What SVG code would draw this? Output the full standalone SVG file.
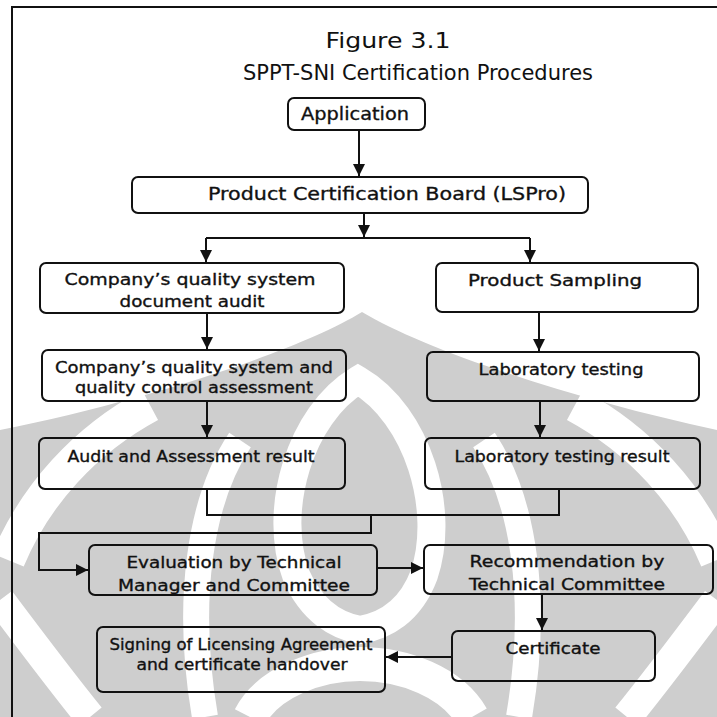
<svg xmlns="http://www.w3.org/2000/svg" width="717" height="717" viewBox="0 0 717 717">
<style>
.box{fill:none;stroke:#111;stroke-width:2}
.t{font-family:"DejaVu Sans","Liberation Sans",sans-serif;font-size:16px;fill:#111;stroke:#111;stroke-width:0.35;text-anchor:middle}
.tb{font-family:"DejaVu Sans","Liberation Sans",sans-serif;font-size:18px;fill:#111;stroke:#111;stroke-width:0.35;text-anchor:middle}
.title{font-family:"DejaVu Sans","Liberation Sans",sans-serif;font-size:22px;fill:#111;text-anchor:middle}
.c{fill:none;stroke:#111;stroke-width:2}
.wm{fill:#cecece}
.wb{fill:none;stroke:#fff}
</style>
<defs>
<marker id="ah" viewBox="0 0 10 10" refX="10" refY="5" markerWidth="6" markerHeight="6" markerUnits="strokeWidth" orient="auto">
<path d="M0,0 L10,5 L0,10 Z" fill="#111"/>
</marker>
</defs>
<rect width="717" height="717" fill="#fff"/>
<g id="watermark">
<path class="wm" d="M362,312 C300,350 150,400 0,430 L0,717 L717,717 L717,430 C575,400 425,350 362,312 Z"/>
<path class="wb" stroke-width="28" d="M358,380 C300,415 272,510 296,575 C312,612 338,626 360,630 C384,626 410,612 424,575 C446,510 418,415 358,380 Z"/>
<path class="wb" stroke-width="34" d="M250,717 C268,682 318,664 360,664 C404,664 452,682 472,717"/>
<path class="wb" stroke-width="34" d="M575,405 C640,440 690,495 717,560"/>
<path class="wb" stroke-width="34" d="M150,405 C85,440 35,495 8,560"/>
<path class="wb" stroke-width="30" d="M0,600 C30,640 60,680 90,717"/>
<path class="wb" stroke-width="30" d="M717,600 C687,640 657,680 627,717"/>
<path class="wb" stroke-width="26" d="M240,440 C200,500 185,600 205,717"/>
<path class="wb" stroke-width="26" d="M484,440 C524,500 539,600 519,717"/>
</g>
<g id="frame">
<path class="c" d="M11,7 H717 M12,7 V717"/>
</g>
<g id="title">
<text class="title" x="388" y="48" textLength="125" lengthAdjust="spacingAndGlyphs">Figure 3.1</text>
<text class="title" x="418" y="80" textLength="350" lengthAdjust="spacingAndGlyphs">SPPT-SNI Certification Procedures</text>
</g>
<g id="connectors">
<path class="c" d="M359,131 V176" marker-end="url(#ah)"/>
<path class="c" d="M364,213 V237" marker-end="url(#ah)"/>
<path class="c" d="M206,238 H530"/>
<path class="c" d="M206,238 V262" marker-end="url(#ah)"/>
<path class="c" d="M530,238 V262" marker-end="url(#ah)"/>
<path class="c" d="M207,313 V349" marker-end="url(#ah)"/>
<path class="c" d="M539,312 V351" marker-end="url(#ah)"/>
<path class="c" d="M207,401 V437" marker-end="url(#ah)"/>
<path class="c" d="M540,401 V437" marker-end="url(#ah)"/>
<path class="c" d="M207,489 V515 H559 V489"/>
<path class="c" d="M371,515 V533 H39 V570 H88" marker-end="url(#ah)"/>
<path class="c" d="M377,568 H423" marker-end="url(#ah)"/>
<path class="c" d="M542,594 V630" marker-end="url(#ah)"/>
<path class="c" d="M452,657 H386" marker-end="url(#ah)"/>
</g>
<g id="n-application">
<rect class="box" x="288" y="98" width="137" height="32" rx="6"/>
<text class="tb" x="355" y="120" textLength="108" lengthAdjust="spacingAndGlyphs">Application</text>
</g>
<g id="n-lspro">
<rect class="box" x="132" y="177" width="456" height="36" rx="6"/>
<text class="tb" x="387" y="200" textLength="358" lengthAdjust="spacingAndGlyphs">Product Certification Board (LSPro)</text>
</g>
<g id="n-docaudit">
<rect class="box" x="40" y="263" width="304" height="50" rx="6"/>
<text class="t" x="190" y="285" textLength="251" lengthAdjust="spacingAndGlyphs">Company’s quality system</text>
<text class="t" x="192" y="307" textLength="145" lengthAdjust="spacingAndGlyphs">document audit</text>
</g>
<g id="n-sampling">
<rect class="box" x="436" y="263" width="262" height="49" rx="6"/>
<text class="t" x="555" y="286" textLength="174" lengthAdjust="spacingAndGlyphs">Product Sampling</text>
</g>
<g id="n-assessment">
<rect class="box" x="42" y="350" width="304" height="51" rx="6"/>
<text class="t" x="194" y="373" textLength="278" lengthAdjust="spacingAndGlyphs">Company’s quality system and</text>
<text class="t" x="194" y="393" textLength="238" lengthAdjust="spacingAndGlyphs">quality control assessment</text>
</g>
<g id="n-labtesting">
<rect class="box" x="427" y="352" width="272" height="49" rx="6"/>
<text class="t" x="561" y="375" textLength="165" lengthAdjust="spacingAndGlyphs">Laboratory testing</text>
</g>
<g id="n-auditresult">
<rect class="box" x="39" y="438" width="306" height="51" rx="6"/>
<text class="t" x="191" y="462" textLength="247" lengthAdjust="spacingAndGlyphs">Audit and Assessment result</text>
</g>
<g id="n-labresult">
<rect class="box" x="425" y="438" width="275" height="51" rx="6"/>
<text class="t" x="562" y="462" textLength="215" lengthAdjust="spacingAndGlyphs">Laboratory testing result</text>
</g>
<g id="n-evaluation">
<rect class="box" x="89" y="545" width="288" height="50" rx="6"/>
<text class="t" x="234" y="568" textLength="215" lengthAdjust="spacingAndGlyphs">Evaluation by Technical</text>
<text class="t" x="234" y="591" textLength="232" lengthAdjust="spacingAndGlyphs">Manager and Committee</text>
</g>
<g id="n-recommendation">
<rect class="box" x="424" y="545" width="289" height="49" rx="6"/>
<text class="t" x="567" y="567" textLength="195" lengthAdjust="spacingAndGlyphs">Recommendation by</text>
<text class="t" x="567" y="590" textLength="196" lengthAdjust="spacingAndGlyphs">Technical Committee</text>
</g>
<g id="n-signing">
<rect class="box" x="97" y="627" width="288" height="65" rx="6"/>
<text class="t" x="241" y="650" textLength="263" lengthAdjust="spacingAndGlyphs">Signing of Licensing Agreement</text>
<text class="t" x="242" y="670" textLength="211" lengthAdjust="spacingAndGlyphs">and certificate handover</text>
</g>
<g id="n-certificate">
<rect class="box" x="452" y="631" width="203" height="50" rx="6"/>
<text class="t" x="553" y="654" textLength="95" lengthAdjust="spacingAndGlyphs">Certificate</text>
</g>
</svg>
